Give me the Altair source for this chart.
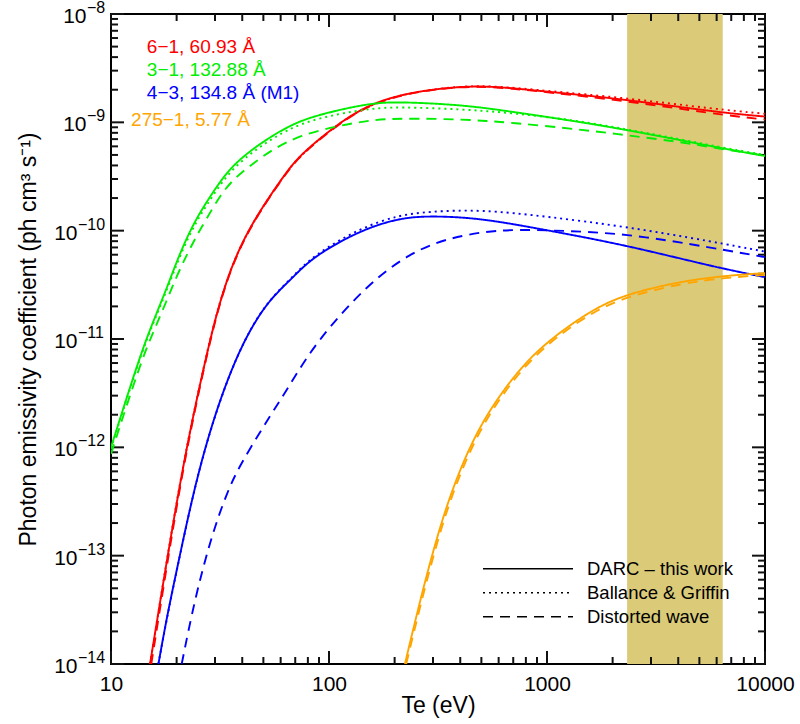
import altair as alt
import pandas as pd

# ---------------- data ----------------
transitions = ["6−1, 60.93 Å", "3−1, 132.88 Å", "4−3, 134.8 Å (M1)", "275−1, 5.77 Å"]
trans_colors = ["#FF0000", "#00EE00", "#0000FF", "#FFA500"]
methods = ["DARC – this work", "Ballance & Griffin", "Distorted wave"]

# 6-1 (red)
red_x = [15.1, 20.0, 23.4, 26.9, 30.5, 35.2, 41.9, 51.8, 64, 73.6, 110.5, 157, 243, 411, 589, 1000, 2300, 5800, 10000]
red_solid = [1e-14, 3.24e-13, 1.66e-12, 6.0e-12, 1.74e-11, 4.37e-11, 9.55e-11, 1.9e-10, 3.5e-10, 4.99e-10, 9.86e-10, 1.51e-9, 1.92e-9, 2.16e-9, 2.14e-9, 1.92e-9, 1.63e-9, 1.25e-9, 1.13e-9]
red_dotted = [1e-14, 3.3e-13, 1.68e-12, 6.1e-12, 1.76e-11, 4.4e-11, 9.5e-11, 1.89e-10, 3.48e-10, 4.96e-10, 9.8e-10, 1.50e-9, 1.92e-9, 2.17e-9, 2.16e-9, 1.95e-9, 1.68e-9, 1.33e-9, 1.20e-9]
red_dashed_x = [15.3, 20.0, 23.4, 26.9, 30.5, 35.2, 41.9, 51.8, 64, 73.6, 110.5, 157, 243, 411, 589, 1000, 2300, 5800, 10000]
red_dashed = [1e-14, 3.0e-13, 1.58e-12, 5.8e-12, 1.7e-11, 4.3e-11, 9.4e-11, 1.87e-10, 3.45e-10, 4.93e-10, 9.7e-10, 1.49e-9, 1.91e-9, 2.15e-9, 2.12e-9, 1.90e-9, 1.58e-9, 1.20e-9, 1.06e-9]

# 3-1 (green)
green_x = [10, 13.6, 15.6, 18.0, 20.0, 22.2, 24.7, 27.5, 31.6, 36.4, 45.0, 55.6, 73.6, 110, 157, 207, 412, 698, 1416, 2323, 4074, 6215, 10000]
green_solid = [1.0e-12, 7.1e-12, 1.44e-11, 2.93e-11, 5.16e-11, 8.5e-11, 1.30e-10, 1.85e-10, 2.83e-10, 4.04e-10, 5.75e-10, 7.64e-10, 1.05e-9, 1.30e-9, 1.50e-9, 1.55e-9, 1.45e-9, 1.25e-9, 1.01e-9, 8.5e-10, 6.87e-10, 5.8e-10, 4.89e-10]
green_dotted = [0.97e-12, 6.9e-12, 1.39e-11, 2.8e-11, 4.9e-11, 8.0e-11, 1.22e-10, 1.73e-10, 2.64e-10, 3.78e-10, 5.4e-10, 7.2e-10, 9.8e-10, 1.20e-9, 1.34e-9, 1.39e-9, 1.32e-9, 1.22e-9, 1.03e-9, 8.6e-10, 7.0e-10, 5.9e-10, 5.0e-10]
green_dashed = [0.87e-12, 5.9e-12, 1.15e-11, 2.25e-11, 3.8e-11, 5.9e-11, 9.0e-11, 1.30e-10, 2.1e-10, 3.0e-10, 4.2e-10, 5.7e-10, 7.6e-10, 9.3e-10, 1.05e-9, 1.09e-9, 1.07e-9, 9.9e-10, 8.6e-10, 7.6e-10, 6.6e-10, 5.7e-10, 4.95e-10]

# 4-3 (blue)
blue_x = [16.5, 18, 20, 24.3, 30, 37.8, 46.5, 55.6, 68.6, 84.5, 139, 211, 290, 493, 1000, 2300, 5800, 10000]
blue_solid = [1e-14, 2.65e-14, 7.3e-14, 4.6e-13, 2.07e-12, 7.1e-12, 1.55e-11, 2.5e-11, 3.73e-11, 5.75e-11, 1.01e-10, 1.31e-10, 1.37e-10, 1.31e-10, 1.01e-10, 7.36e-11, 4.64e-11, 3.72e-11]
blue_dotted = [1e-14, 2.6e-14, 7.2e-14, 4.6e-13, 2.05e-12, 7.1e-12, 1.56e-11, 2.52e-11, 3.8e-11, 5.9e-11, 1.06e-10, 1.40e-10, 1.50e-10, 1.57e-10, 1.35e-10, 1.09e-10, 7.9e-11, 6.4e-11]
blue_dashed_x = [21.1, 24.3, 29, 34, 38.6, 50.9, 59.6, 67.3, 88, 150, 235, 345, 588, 1000, 2300, 5800, 10000]
blue_dashed = [1e-14, 4.1e-14, 1.55e-13, 3.8e-13, 6.6e-13, 1.65e-12, 2.7e-12, 4.0e-12, 9.6e-12, 3.2e-11, 6.2e-11, 8.5e-11, 1.03e-10, 1.01e-10, 9.5e-11, 6.9e-11, 5.7e-11]

# 275-1 (orange)
orange_x = [223, 271, 346, 464, 616, 843, 1205, 1705, 2360, 4170, 6600, 10000]
orange_solid = [1e-14, 5.2e-14, 3.1e-13, 1.3e-12, 3.2e-12, 7.0e-12, 1.25e-11, 1.98e-11, 2.62e-11, 3.43e-11, 3.84e-11, 4.06e-11]
orange_dashed_x = [226, 274, 350, 470, 620, 850, 1205, 1705, 2360, 4170, 6600, 10000]
orange_dashed = [1e-14, 5.0e-14, 3.0e-13, 1.25e-12, 3.05e-12, 6.7e-12, 1.19e-11, 1.88e-11, 2.48e-11, 3.27e-11, 3.68e-11, 3.9e-11]

# shaded temperature band
band_x = [2330]
band_x2 = [6400]

# transition label positions (data coordinates)
label_x = [14.6, 14.6, 14.6, 12.36]
label_y = [4.95e-9, 3.04e-9, 1.87e-9, 1.05e-9]

x_tick_values = [10, 100, 1000, 10000]
y_tick_values = [1e-14, 1e-13, 1e-12, 1e-11, 1e-10, 1e-9, 1e-8]
y_tick_base = ["10"] * 7
y_tick_exp = ["−14", "−13", "−12", "−11", "−10", "−9", "−8"]
x_minor = [k * 10 ** e for e in (1, 2, 3) for k in range(2, 10)]
y_minor = [k * 10.0 ** e for e in range(-14, -8) for k in range(2, 10)]

W, H = 654, 650
FONT = "Liberation Sans"
XLO, XHI, YLO, YHI = 10, 10000, 1e-14, 1e-8
PX_PER_DEC_X = W / 3.0
PX_PER_DEC_Y = H / 6.0
MAJ, MIN = 13, 7      # inward tick lengths (px)
TW = 2.0              # tick thickness (px)
TICK = "tick"
TICK_COLOR = "#111111"

# ---------------- build tables ----------------
rows = []
def add(t, m, xs, ys):
    for i, (a, b) in enumerate(zip(xs, ys)):
        rows.append({"trans": transitions[t], "method": methods[m], "key": f"{t}-{m}",
                     "x": a, "y": b, "order": i})

add(0, 0, red_x, red_solid)
add(0, 1, red_x, red_dotted)
add(0, 2, red_dashed_x, red_dashed)
add(1, 0, green_x, green_solid)
add(1, 1, green_x, green_dotted)
add(1, 2, green_x, green_dashed)
add(2, 0, blue_x, blue_solid)
add(2, 1, blue_x, blue_dotted)
add(2, 2, blue_dashed_x, blue_dashed)
add(3, 0, orange_x, orange_solid)
add(3, 2, orange_dashed_x, orange_dashed)
df = pd.DataFrame(rows)

# tick rectangles (thin bands in data units, drawn like the shaded band)
hx = 10 ** (TW / 2 / PX_PER_DEC_X)
hy = 10 ** (TW / 2 / PX_PER_DEC_Y)
xt_rows = [{"x": v / hx, "x2": v * hx, "major": True} for v in x_tick_values] + \
          [{"x": v / hx, "x2": v * hx, "major": False} for v in x_minor]
yt_rows = [{"y": v / hy, "y2": v * hy, "major": True} for v in y_tick_values] + \
          [{"y": v / hy, "y2": v * hy, "major": False} for v in y_minor]
xt_df = pd.DataFrame(xt_rows)
yt_df = pd.DataFrame(yt_rows)

band_df = pd.DataFrame({"x": band_x, "x2": band_x2})
lab_df = pd.DataFrame({"x": label_x, "y": label_y, "trans": transitions})
ylab_df = pd.DataFrame({"y": y_tick_values, "base": y_tick_base, "exp": y_tick_exp,
                        "wide": [len(e) > 2 for e in y_tick_exp]})

xscale = alt.Scale(type="log", domain=[XLO, XHI], nice=False)
yscale = alt.Scale(type="log", domain=[YLO, YHI], nice=False)

IS_DECADE = "abs(log(datum.value)/LN10 - round(log(datum.value)/LN10)) < 0.001"

xaxis = alt.Axis(values=x_tick_values, format="d", ticks=False, domain=False, grid=False,
                 labelFontSize=21, labelFont=FONT, labelColor="black", labelPadding=9,
                 labelFlush=False, labelOverlap=False,
                 titleFontSize=23, titleFont=FONT, titleFontWeight="normal", titleColor="black",
                 titlePadding=0)
yaxis = alt.Axis(values=y_tick_values, labels=False, ticks=False, domain=False, grid=False,
                 titleFontSize=23, titleFont=FONT, titleFontWeight="normal", titleColor="black",
                 titleX=-83, titleBaseline="middle")
XT = "Te (eV)"
YT = "Photon emissivity coefficient (ph cm³ s⁻¹)"

def X(f="x"):
    return alt.X(f, type="quantitative", scale=xscale, axis=xaxis, title=XT)

def Y(f="y"):
    return alt.Y(f, type="quantitative", scale=yscale, axis=yaxis, title=YT)

color = alt.Color("trans:N", scale=alt.Scale(domain=transitions, range=trans_colors), legend=None)

band = alt.Chart(band_df).mark_rect(color="#DBCB79", opacity=1).encode(
    x=X(), x2="x2:Q", y=alt.value(0), y2=alt.value(H))

# inward ticks, built the same way as the shaded band (rect with x/x2 in data, y in pixels)
tick_layers = []
for major, n in ((True, MAJ), (False, MIN)):
    flt = "datum.major" if major else "!datum.major"
    xt = alt.Chart(xt_df).transform_filter(flt)
    yt = alt.Chart(yt_df).transform_filter(flt)
    tick_layers += [
        xt.mark_rect(color=TICK_COLOR, opacity=1).encode(x=X(), x2="x2:Q", y=alt.value(H - n), y2=alt.value(H)),
        xt.mark_rect(color=TICK_COLOR, opacity=1).encode(x=X(), x2="x2:Q", y=alt.value(0), y2=alt.value(n)),
        yt.mark_rect(color=TICK_COLOR, opacity=1).encode(y=Y(), y2="y2:Q", x=alt.value(0), x2=alt.value(n)),
        yt.mark_rect(color=TICK_COLOR, opacity=1).encode(y=Y(), y2="y2:Q", x=alt.value(W - n), x2=alt.value(W)),
    ]

lines = alt.Chart(df).mark_line(strokeWidth=1.9, clip=True, interpolate="basis").encode(
    x=X(), y=Y(), color=color,
    strokeDash=alt.StrokeDash("method:N",
        scale=alt.Scale(domain=methods, range=[[1, 0], [2, 4], [10, 7]]),
        legend=alt.Legend(title=None, orient="none", legendX=371, legendY=543,
                          symbolType="stroke", symbolSize=8100, symbolStrokeWidth=1.5,
                          symbolStrokeColor="black", clipHeight=23.5, rowPadding=0, padding=0,
                          labelFontSize=18.5, labelFont=FONT, labelColor="black",
                          labelOffset=13, labelLimit=400)),
    order="order:Q", detail="key:N")

labels = alt.Chart(lab_df).mark_text(align="left", baseline="middle", fontSize=19, font=FONT).encode(
    x=X(), y=Y(), text="trans:N", color=color)

# y tick labels: "10" with raised exponent
ylabels = []
for wide, xr in ((True, -33.5), (False, -24.5)):
    sub = alt.Chart(ylab_df).transform_filter("datum.wide" if wide else "!datum.wide")
    ylabels.append(sub.mark_text(align="right", baseline="middle", fontSize=21, font=FONT,
                                 color="black", dy=3)
                   .encode(y=Y(), x=alt.value(xr), text="base:N"))
    ylabels.append(sub.mark_text(align="left", baseline="middle", fontSize=16, font=FONT,
                                 color="black", dy=-6)
                   .encode(y=Y(), x=alt.value(xr + 0.5), text="exp:N"))

chart = alt.layer(band, *tick_layers, lines, labels, *ylabels).properties(
    width=W, height=H,
    padding={"left": 111, "top": 14, "right": 35, "bottom": 60},
    autosize=alt.AutoSizeParams(type="none"),
    background="white",
).configure_view(stroke="black", strokeWidth=2)

chart.save("out.html", embed_options={"renderer": "svg", "actions": False})
